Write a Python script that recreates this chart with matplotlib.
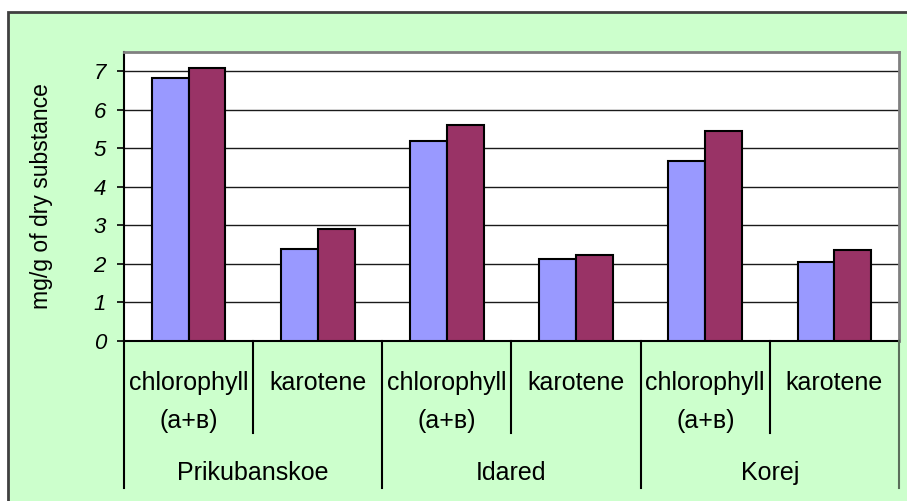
"""
Chlorophyll and karotene content in leaves of three apple varieties.
Excel-style clustered bar chart with two-level category axis.
"""

import matplotlib
matplotlib.use("Agg")
import matplotlib.pyplot as plt
import matplotlib.transforms as mtransforms
from matplotlib.patches import Rectangle

# ── Data ────────────────────────────────────────────────────────────────────
varieties = ["Prikubanskoe", "Idared", "Korej"]
pigments = ["chlorophyll\n(a+в)", "karotene"]
series_1 = [6.83, 2.38, 5.18, 2.12, 4.66, 2.05]
series_2 = [7.09, 2.91, 5.61, 2.23, 5.45, 2.37]
y_ticks = [0, 1, 2, 3, 4, 5, 6, 7]
y_label = "mg/g of dry substance"

COLOR_1 = "#9999FF"
COLOR_2 = "#993366"
BG_GREEN = "#CCFFCC"


def main() -> None:
    plt.rcParams["font.family"] = ["Liberation Sans", "DejaVu Sans"]

    W, H = 907, 501
    fig = plt.figure(figsize=(W / 100, H / 100), dpi=100, facecolor="white")

    # ── Chart area frame (green, extends past the right/bottom edges) ───────
    frame = Rectangle((8 / W, -0.1), 1.2, 1 - 12 / H + 0.1,
                      transform=fig.transFigure, facecolor=BG_GREEN,
                      edgecolor="#404040", linewidth=2, clip_on=False, zorder=-10)
    fig.patches.append(frame)

    # ── Plot area ───────────────────────────────────────────────────────────
    left, right, top, bottom = 124, 899, 52, 341
    ax = fig.add_axes([left / W, (H - bottom) / H,
                       (right - left) / W, (bottom - top) / H])
    ax.set_facecolor("white")

    n = len(series_1)
    xs = list(range(n))
    w = 1 / 3.5
    ax.bar([x - w / 2 for x in xs], series_1, width=w, color=COLOR_1,
           edgecolor="black", linewidth=1.5, zorder=3)
    ax.bar([x + w / 2 for x in xs], series_2, width=w, color=COLOR_2,
           edgecolor="black", linewidth=1.5, zorder=3)

    ax.set_xlim(-0.5, n - 0.5)
    ax.set_ylim(0, 7.5)
    ax.set_yticks(y_ticks)
    ax.set_xticks([])
    ax.tick_params(axis="y", direction="out", length=5, width=1.2, pad=8,
                   colors="black", labelsize=16)
    for lbl in ax.get_yticklabels():
        lbl.set_fontstyle("italic")

    ax.yaxis.grid(True, color="#1a1a1a", linewidth=1.0)
    ax.set_axisbelow(True)

    for side in ("top", "right"):
        ax.spines[side].set_color("#808080")
        ax.spines[side].set_linewidth(2)
    for side in ("left", "bottom"):
        ax.spines[side].set_color("black")
        ax.spines[side].set_linewidth(1.5)

    ax.set_ylabel(y_label, fontsize=16.5)
    ax.yaxis.set_label_coords((53 - left) / (right - left), 0.5)

    # ── Two-level category axis ─────────────────────────────────────────────
    ph = bottom - top
    trans = mtransforms.blended_transform_factory(ax.transData, ax.transAxes)
    inner_bottom = -(433 - bottom) / ph
    outer_bottom = -(488 - bottom) / ph

    for i in range(n + 1):
        b = i - 0.5
        y_end = outer_bottom if i % len(pigments) == 0 else inner_bottom
        col = "#5a6e5a" if i == n else "black"
        ax.plot([b, b], [0, y_end], transform=trans, color=col,
                linewidth=1.5, clip_on=False, zorder=4)

    for i in range(n):
        ax.text(i, -(371 - bottom) / ph, pigments[i % len(pigments)],
                transform=trans, ha="center", va="top", fontsize=18,
                linespacing=1.75)

    for g, name in enumerate(varieties):
        cx = g * len(pigments) + (len(pigments) - 1) / 2
        ax.text(cx, -(473 - bottom) / ph, name, transform=trans,
                ha="center", va="center", fontsize=18)

    fig.savefig("out.png", dpi=100, facecolor=fig.get_facecolor())
    plt.close(fig)


if __name__ == "__main__":
    main()
